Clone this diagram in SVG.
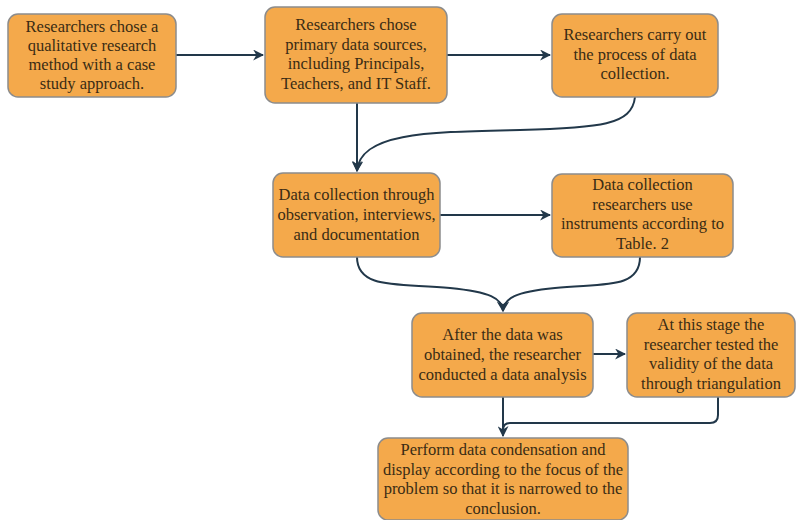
<svg xmlns="http://www.w3.org/2000/svg" width="798" height="520" viewBox="0 0 798 520">
<defs>
<style>
.box{fill:#F4A94B;stroke:#8c8c8c;stroke-width:1.5}
.t{font-family:'Liberation Serif','Times New Roman',serif;font-size:16.5px;fill:#3a2c14;text-anchor:middle}
.c{fill:none;stroke:#22384a;stroke-width:2}
</style>
<marker id="ah" viewBox="0 0 10 10" refX="9" refY="5" markerWidth="11" markerHeight="11" markerUnits="userSpaceOnUse" orient="auto">
<path d="M0,0 L10,5 L0,10 L3,5 Z" fill="#22384a"/>
</marker>
</defs>
<rect width="798" height="520" fill="#ffffff"/>
<g id="connectors">
<path class="c" d="M176,55 L263,55" marker-end="url(#ah)"/>
<path class="c" d="M447,55 L550,55" marker-end="url(#ah)"/>
<path class="c" d="M357,103 L357,171" marker-end="url(#ah)"/>
<path class="c" d="M635,97 C632,125 600,128 520,130 C430,132 360,132 357,171" marker-end="url(#ah)"/>
<path class="c" d="M440,215 L550,215" marker-end="url(#ah)"/>
<path class="c" d="M357,257 C357,290 400,283 450,288 C490,292 502,298 503,311" marker-end="url(#ah)"/>
<path class="c" d="M640,257 C640,290 600,283 555,288 C515,292 504,298 503,311" marker-end="url(#ah)"/>
<path class="c" d="M593,354 L625,354" marker-end="url(#ah)"/>
<path class="c" d="M503,397 L503,436" marker-end="url(#ah)"/>
<path class="c" d="M718,397 L718,415 Q718,423 710,423 L510,423 Q503,423 503,430"/>
</g>
<g id="n1"><rect class="box" x="8" y="14" width="168" height="83" rx="10"/>
<text class="t" x="92" y="32">Researchers chose a</text>
<text class="t" x="92" y="51">qualitative research</text>
<text class="t" x="92" y="70">method with a case</text>
<text class="t" x="92" y="89">study approach.</text></g>
<g id="n2"><rect class="box" x="265" y="7" width="182" height="96" rx="10"/>
<text class="t" x="356" y="30">Researchers chose</text>
<text class="t" x="356" y="49.5">primary data sources,</text>
<text class="t" x="356" y="69">including Principals,</text>
<text class="t" x="356" y="88.5">Teachers, and IT Staff.</text></g>
<g id="n3"><rect class="box" x="552" y="14" width="166" height="83" rx="10"/>
<text class="t" x="635" y="40">Researchers carry out</text>
<text class="t" x="635" y="59.5">the process of data</text>
<text class="t" x="635" y="79">collection.</text></g>
<g id="n4"><rect class="box" x="273" y="173" width="167" height="84" rx="10"/>
<text class="t" x="356.5" y="200">Data collection through</text>
<text class="t" x="356.5" y="220">observation, interviews,</text>
<text class="t" x="356.5" y="240">and documentation</text></g>
<g id="n5"><rect class="box" x="552" y="174" width="181" height="83" rx="10"/>
<text class="t" x="642.5" y="190">Data collection</text>
<text class="t" x="642.5" y="209.5">researchers use</text>
<text class="t" x="642.5" y="229">instruments according to</text>
<text class="t" x="642.5" y="248.5">Table. 2</text></g>
<g id="n6"><rect class="box" x="412" y="313" width="181" height="84" rx="10"/>
<text class="t" x="502.5" y="340">After the data was</text>
<text class="t" x="502.5" y="360">obtained, the researcher</text>
<text class="t" x="502.5" y="380">conducted a data analysis</text></g>
<g id="n7"><rect class="box" x="627" y="313" width="168" height="84" rx="10"/>
<text class="t" x="711" y="330">At this stage the</text>
<text class="t" x="711" y="349.5">researcher tested the</text>
<text class="t" x="711" y="369">validity of the data</text>
<text class="t" x="711" y="388.5">through triangulation</text></g>
<g id="n8"><rect class="box" x="378" y="438" width="250" height="82" rx="10"/>
<text class="t" x="503" y="455">Perform data condensation and</text>
<text class="t" x="503" y="474.5">display according to the focus of the</text>
<text class="t" x="503" y="494">problem so that it is narrowed to the</text>
<text class="t" x="503" y="513.5">conclusion.</text></g>
</svg>
